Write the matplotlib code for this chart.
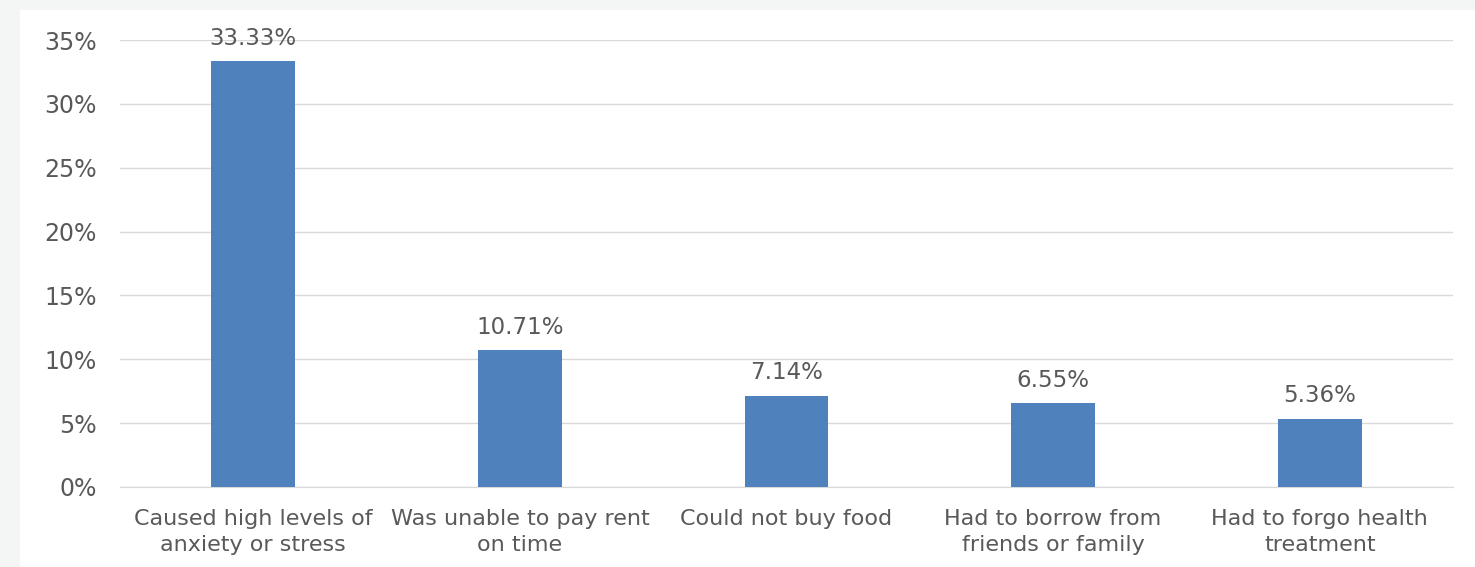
import matplotlib
matplotlib.use("Agg")
import matplotlib.pyplot as plt
from matplotlib.patches import Rectangle
from matplotlib.ticker import FuncFormatter

categories = [
    "Caused high levels of\nanxiety or stress",
    "Was unable to pay rent\non time",
    "Could not buy food",
    "Had to borrow from\nfriends or family",
    "Had to forgo health\ntreatment",
]
values = [33.33, 10.71, 7.14, 6.55, 5.36]
yticks = [0, 5, 10, 15, 20, 25, 30, 35]

plt.rcParams['font.family'] = ['DejaVu Sans']
text_col = '#595959'

fig = plt.figure(figsize=(14.75, 5.67), dpi=100)
fig.patch.set_facecolor('#f4f6f6')
# white chart panel
fig.add_artist(Rectangle((20 / 1475, 0), 1, 1 - 10 / 567,
                         transform=fig.transFigure, facecolor='white',
                         edgecolor='none', zorder=0))

ax = fig.add_axes([120 / 1475, 1 - 487 / 567, (1453 - 120) / 1475, (487 - 40) / 567])
ax.set_facecolor('none')

x = range(len(categories))
bars = ax.bar(x, values, width=0.315, color='#4f81bd', zorder=3)
for b, v in zip(bars, values):
    ax.text(b.get_x() + b.get_width() / 2, v + 0.9, f"{v:.2f}%",
            ha='center', va='bottom', fontsize=16.5, color=text_col)

ax.set_xlim(-0.5, len(categories) - 0.5)
ax.set_ylim(0, 35)
ax.set_yticks(yticks)
ax.yaxis.set_major_formatter(FuncFormatter(lambda v, p: f"{v:.0f}%"))
ax.grid(axis='y', color='#d9d9d9', linewidth=1, zorder=0)
ax.set_xticks(list(x))
ax.set_xticklabels(categories, fontsize=16, color=text_col, linespacing=1.4)
ax.tick_params(axis='y', labelsize=17, labelcolor=text_col, length=0, pad=16.5)
ax.tick_params(axis='x', length=0, pad=15.5)
for s in ['top', 'right', 'left']:
    ax.spines[s].set_visible(False)
ax.spines['bottom'].set_color('#d9d9d9')

fig.savefig('out.png', dpi=100, facecolor=fig.get_facecolor())
